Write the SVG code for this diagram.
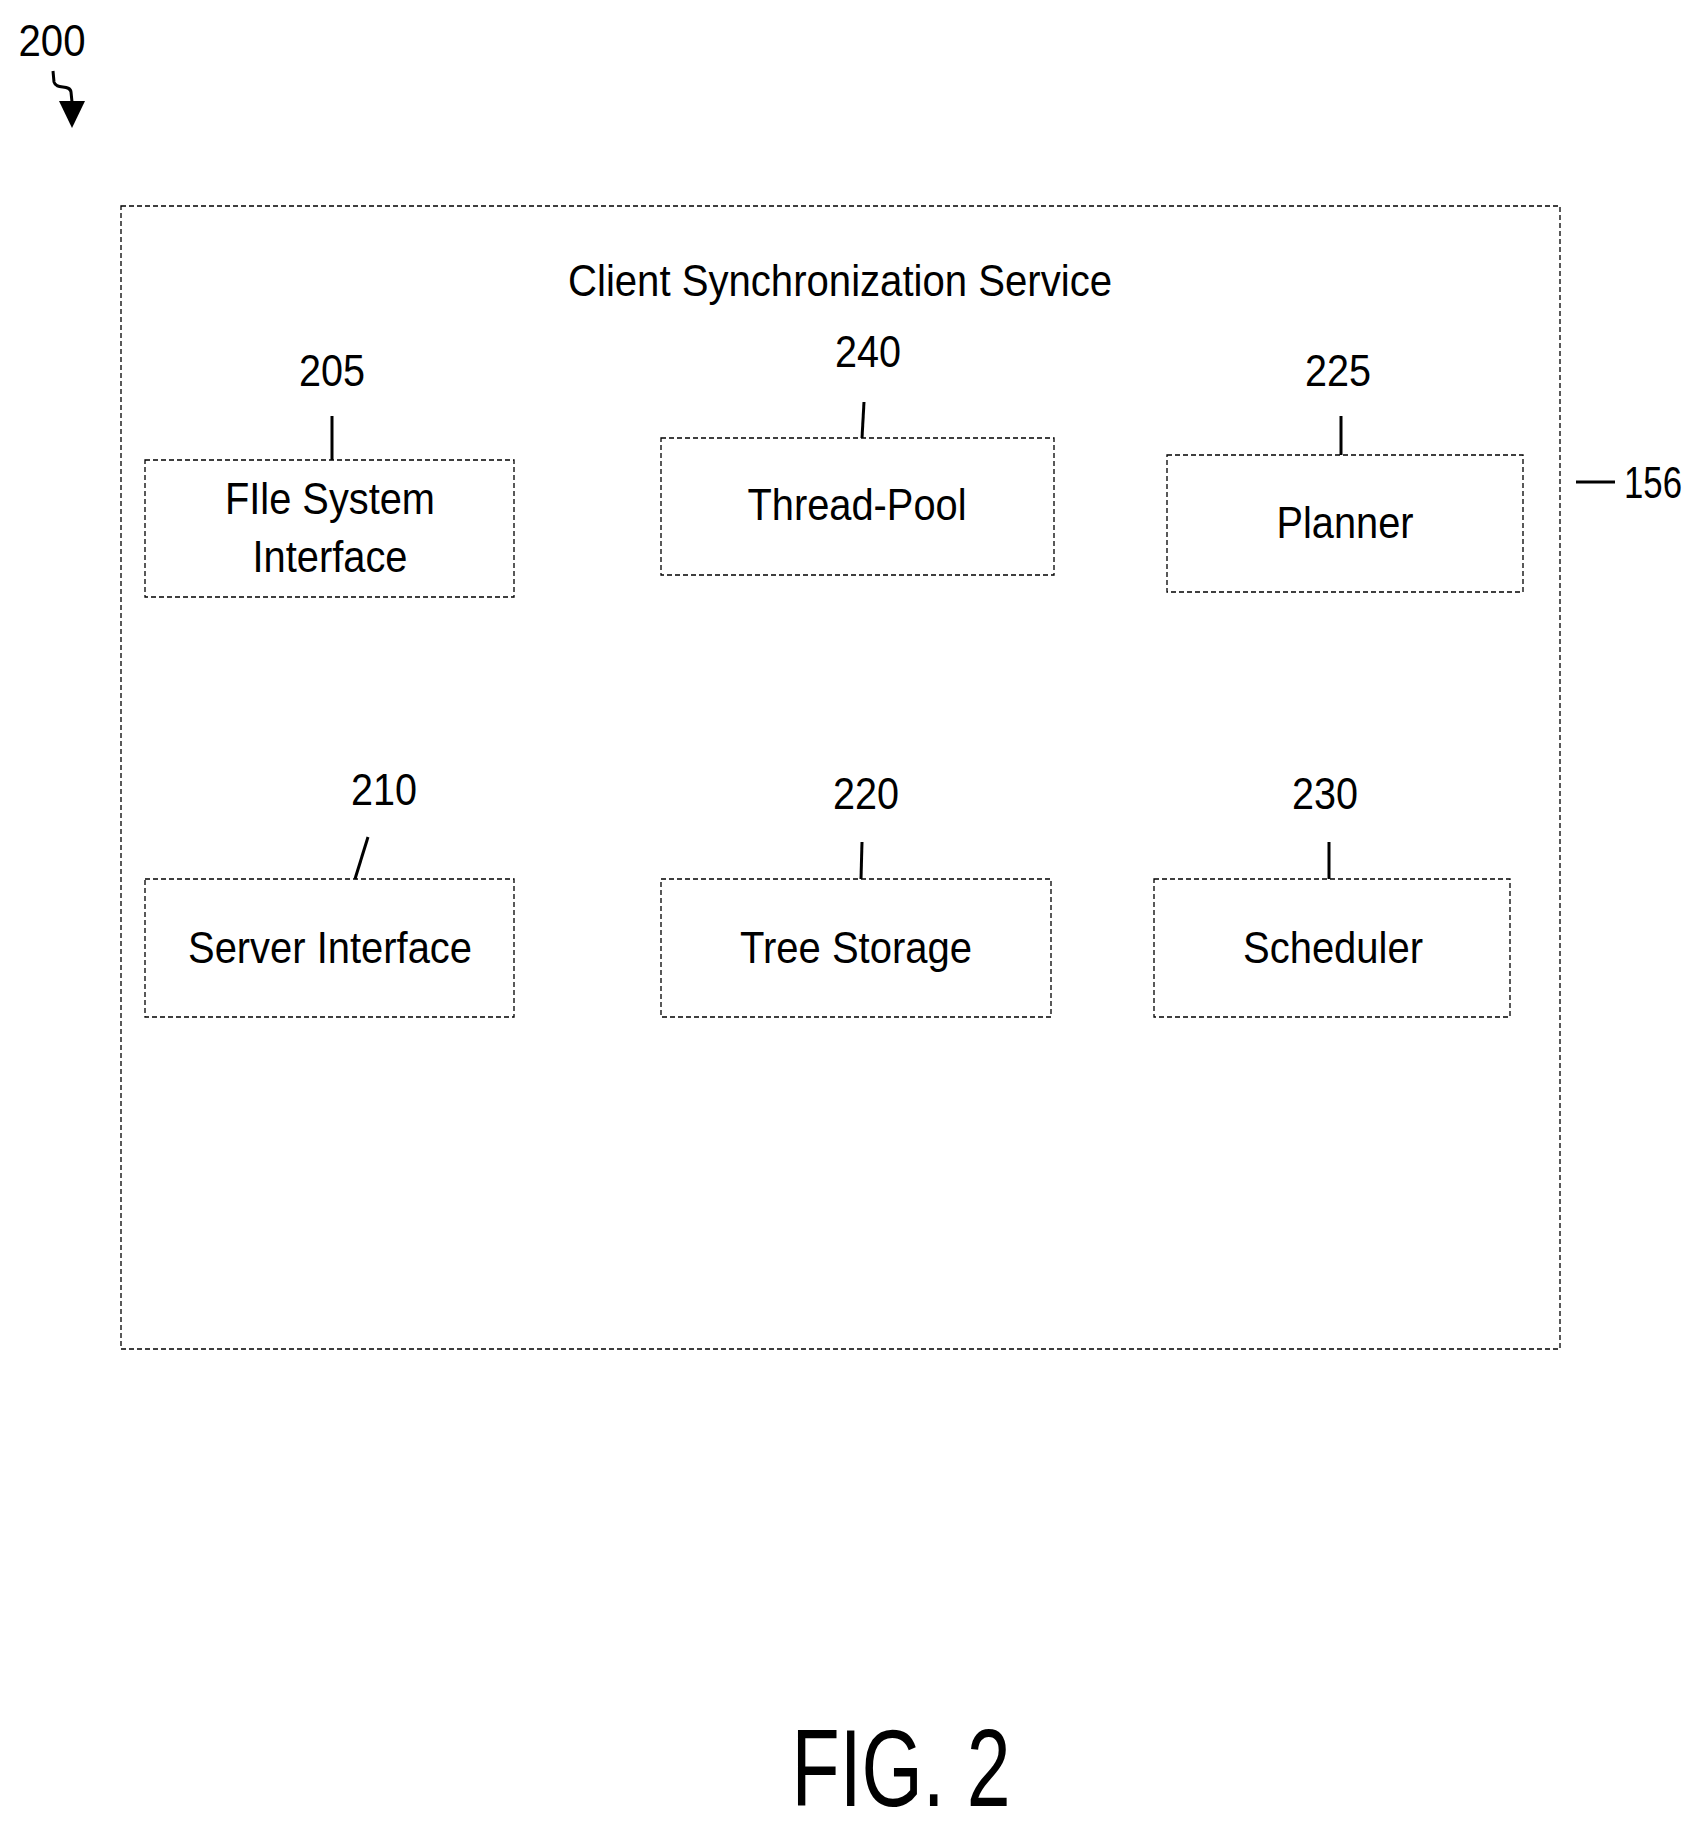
<svg xmlns="http://www.w3.org/2000/svg" width="1703" height="1834" viewBox="0 0 1703 1834">
<style>
text{font-family:"Liberation Sans",Arial,sans-serif;font-size:45px;fill:#000}
.m{text-anchor:middle}
.box{fill:none;stroke:#000;stroke-width:1.3;stroke-dasharray:5,3}
.ld{stroke:#000;stroke-width:3;fill:none}
</style>
<rect width="1703" height="1834" fill="#fff"/>
<g id="fig-ref">
<text x="52" y="56" class="m" textLength="67" lengthAdjust="spacingAndGlyphs">200</text>
<path class="ld" d="M53,71 L54,82 C56,90 70,84 71,92 L72,102"/>
<polygon points="59,101 85,101 72,128"/>
</g>
<g id="service">
<rect class="box" x="121" y="206" width="1439" height="1143"/>
<text x="840" y="296" class="m" textLength="544" lengthAdjust="spacingAndGlyphs">Client Synchronization Service</text>
<line class="ld" x1="1576" y1="482" x2="1615" y2="482"/>
<text x="1624" y="498" textLength="58" lengthAdjust="spacingAndGlyphs">156</text>
</g>
<g id="n205">
<rect class="box" x="145" y="460" width="369" height="137"/>
<text x="330" y="514" class="m" textLength="210" lengthAdjust="spacingAndGlyphs">FIle System</text>
<text x="330" y="572" class="m" textLength="155" lengthAdjust="spacingAndGlyphs">Interface</text>
<text x="332" y="386" class="m" textLength="66" lengthAdjust="spacingAndGlyphs">205</text>
</g>
<g id="n240">
<rect class="box" x="661" y="438" width="393" height="137"/>
<text x="857" y="520" class="m" textLength="219" lengthAdjust="spacingAndGlyphs">Thread-Pool</text>
<text x="868" y="367" class="m" textLength="66" lengthAdjust="spacingAndGlyphs">240</text>
</g>
<g id="n225">
<rect class="box" x="1167" y="455" width="356" height="137"/>
<text x="1345" y="538" class="m" textLength="137" lengthAdjust="spacingAndGlyphs">Planner</text>
<text x="1338" y="386" class="m" textLength="66" lengthAdjust="spacingAndGlyphs">225</text>
</g>
<g id="n210">
<rect class="box" x="145" y="879" width="369" height="138"/>
<text x="330" y="963" class="m" textLength="284" lengthAdjust="spacingAndGlyphs">Server Interface</text>
<text x="384" y="805" class="m" textLength="66" lengthAdjust="spacingAndGlyphs">210</text>
</g>
<g id="n220">
<rect class="box" x="661" y="879" width="390" height="138"/>
<text x="856" y="963" class="m" textLength="232" lengthAdjust="spacingAndGlyphs">Tree Storage</text>
<text x="866" y="809" class="m" textLength="66" lengthAdjust="spacingAndGlyphs">220</text>
</g>
<g id="n230">
<rect class="box" x="1154" y="879" width="356" height="138"/>
<text x="1333" y="963" class="m" textLength="180" lengthAdjust="spacingAndGlyphs">Scheduler</text>
<text x="1325" y="809" class="m" textLength="66" lengthAdjust="spacingAndGlyphs">230</text>
</g>
<g id="connectors">
<line class="ld" x1="332" y1="416" x2="332" y2="460"/>
<line class="ld" x1="864" y1="402" x2="862" y2="438"/>
<line class="ld" x1="1341" y1="416" x2="1341" y2="455"/>
<line class="ld" x1="368" y1="837" x2="355" y2="879"/>
<line class="ld" x1="862" y1="842" x2="861" y2="879"/>
<line class="ld" x1="1329" y1="842" x2="1329" y2="879"/>
</g>
<g id="caption">
<text x="901" y="1806" class="m" style="font-size:110px" textLength="219" lengthAdjust="spacingAndGlyphs">FIG. 2</text>
</g>
</svg>
